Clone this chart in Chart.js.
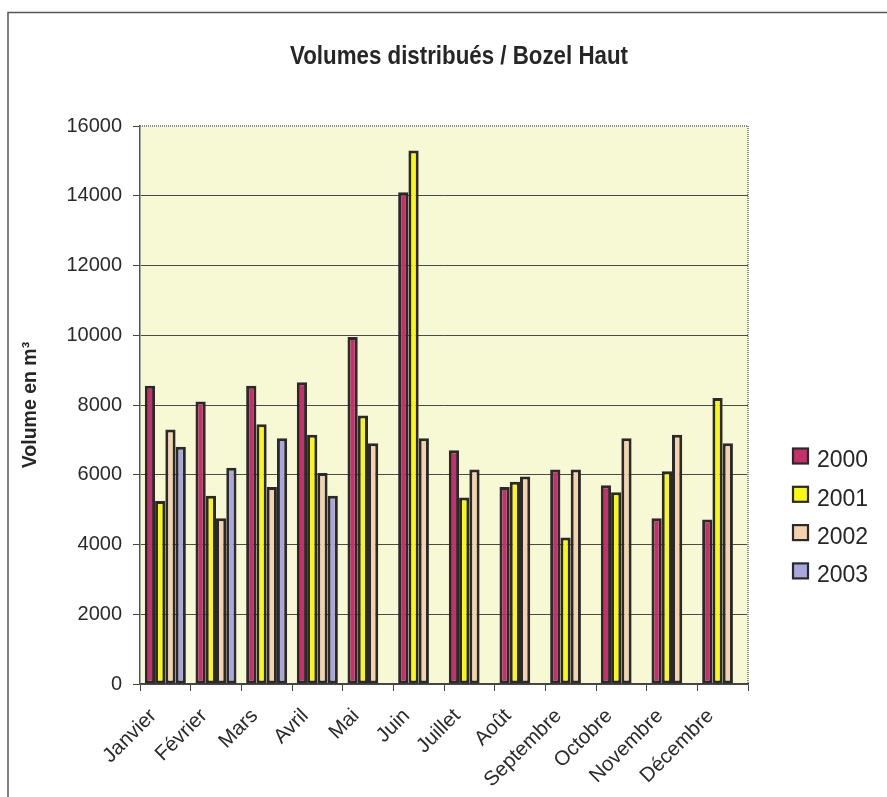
<!DOCTYPE html>
<html lang="fr">
<head>
<meta charset="utf-8">
<title>Volumes distribués / Bozel Haut</title>
<script src="https://cdn.jsdelivr.net/npm/chart.js@4.4.1/dist/chart.umd.min.js"></script>
<style>
  html, body { margin: 0; padding: 0; background: #fff; }
  canvas { display: block; }
</style>
</head>
<body>
<canvas id="chart" width="887" height="797"></canvas>
<script>
// Volumes mensuels (m3) par année
const mois = ['Janvier', 'Février', 'Mars', 'Avril', 'Mai', 'Juin', 'Juillet', 'Août',
  'Septembre', 'Octobre', 'Novembre', 'Décembre'];
const annees = ['2000', '2001', '2002', '2003'];
const vol2000 = [8550, 8100, 8550, 8650, 9950, 14100, 6700, 5650, 6150, 5700, 4750, 4720];
const vol2001 = [5250, 5400, 7450, 7150, 7700, 15300, 5350, 5800, 4200, 5500, 6100, 8200];
const vol2002 = [7300, 4750, 5650, 6050, 6900, 7050, 6150, 5950, 6150, 7050, 7150, 6900];
const vol2003 = [6800, 6200, 7050, 5400, null, null, null, null, null, null, null, null];
const yTicks = [0, 2000, 4000, 6000, 8000, 10000, 12000, 14000, 16000];

const titre = 'Volumes distribués / Bozel Haut';
const couleurs = ['#c6306c', '#fbf712', '#f5d2ae', '#a9a7dc'];
const police = "'Liberation Sans', Arial, sans-serif";

// fond, cadre, titre et légende dessinés à la main
const decor = {
  id: 'decor',
  beforeDraw(chart) {
    const { ctx, chartArea: a } = chart;
    ctx.save();
    ctx.fillStyle = '#fff';
    ctx.fillRect(0, 0, chart.width, chart.height);
    ctx.strokeStyle = '#555';
    ctx.lineWidth = 1.5;
    ctx.beginPath();
    ctx.moveTo(8, chart.height);
    ctx.lineTo(8, 12.5);
    ctx.lineTo(chart.width, 12.5);
    ctx.stroke();
    ctx.fillStyle = '#f7f9d4';
    ctx.fillRect(a.left, a.top, a.right - a.left, a.bottom - a.top);
    ctx.restore();
  },
  afterDraw(chart) {
    const { ctx, chartArea: a } = chart;
    ctx.save();
    // bord haut et droit en pointillés
    ctx.strokeStyle = '#8a8a8a';
    ctx.lineWidth = 2;
    ctx.setLineDash([1, 1]);
    ctx.beginPath();
    ctx.moveTo(a.left, a.top);
    ctx.lineTo(a.right, a.top);
    ctx.lineTo(a.right, a.bottom);
    ctx.stroke();
    ctx.setLineDash([]);

    // titre en gras étroit
    ctx.fillStyle = '#262626';
    ctx.font = 'bold 25px ' + police;
    ctx.textAlign = 'center';
    ctx.textBaseline = 'middle';
    const w = ctx.measureText(titre).width;
    ctx.save();
    ctx.translate(459, 57);
    ctx.scale(338 / w, 1);
    ctx.fillText(titre, 0, 0);
    ctx.restore();

    ctx.font = '23px ' + police;
    ctx.textAlign = 'left';
    chart.data.datasets.forEach((ds, i) => {
      const y = 456 + i * 38.3;
      ctx.fillStyle = ds.backgroundColor;
      ctx.fillRect(793, y - 7.5, 15, 15);
      ctx.strokeStyle = '#2a2a2a';
      ctx.lineWidth = 2.2;
      ctx.strokeRect(793, y - 7.5, 15, 15);
      ctx.fillStyle = '#262626';
      ctx.fillText(ds.label, 817, y + 5);
    });
    ctx.restore();
  }
};

const series = [vol2000, vol2001, vol2002, vol2003];

new Chart(document.getElementById('chart'), {
  type: 'bar',
  data: {
    labels: mois,
    datasets: series.map((d, i) => ({
      label: annees[i],
      data: d,
      backgroundColor: couleurs[i],
      borderColor: '#2a2a2a',
      borderWidth: 3,
      borderSkipped: false,
      categoryPercentage: 0.81,
      barPercentage: 1
    }))
  },
  options: {
    responsive: false,
    animation: false,
    layout: { autoPadding: false, padding: { top: 126, right: 139, bottom: 0, left: 0 } },
    plugins: {
      legend: { display: false },
      title: { display: false },
      tooltip: { enabled: false }
    },
    scales: {
      x: {
        afterFit: s => { s.height = 113; },
        grid: { drawOnChartArea: false, color: '#444', tickLength: 7, lineWidth: 1 },
        border: { color: '#444', width: 1.5 },
        ticks: {
          autoSkip: false, minRotation: 45, maxRotation: 45, padding: 13, labelOffset: -12,
          color: '#2a2a2a', font: { family: police, size: 20.5 }
        }
      },
      y: {
        min: 0,
        max: 16000,
        afterFit: s => { s.width = 140; },
        afterBuildTicks: s => { s.ticks = yTicks.map(v => ({ value: v })); },
        grid: {
          color: c => (c.tick && c.tick.value === 16000 ? 'rgba(0,0,0,0)' : '#4a4a4a'),
          tickColor: '#444', tickLength: 7, lineWidth: 1
        },
        border: { color: '#555', width: 1.5 },
        ticks: {
          padding: 11, color: '#2a2a2a', font: { family: police, size: 20 },
          callback: v => String(v)
        },
        title: {
          display: true,
          text: 'Volume en m³',
          color: '#262626',
          font: { family: police, size: 19.5, weight: 'bold' },
          padding: { top: 19, bottom: 0 }
        }
      }
    }
  },
  plugins: [decor]
});
</script>
</body>
</html>
